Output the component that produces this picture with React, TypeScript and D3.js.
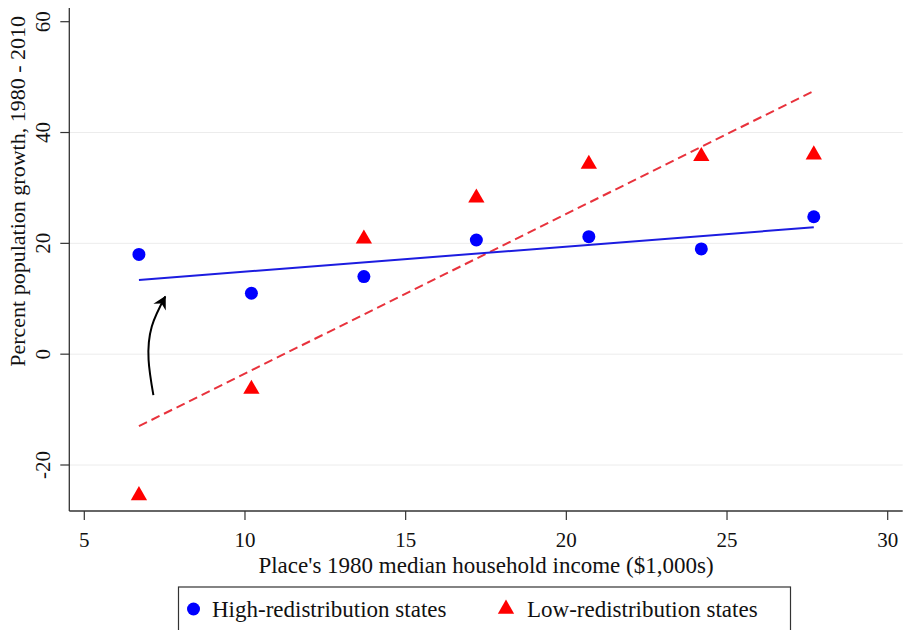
import React, { useRef, useEffect } from 'react';
import * as d3 from 'd3';

// place's 1980 median household income ($1,000s)
const incomeBins: number[] = [6.7, 10.2, 13.7, 17.2, 20.7, 24.2, 27.7];
// percent population growth 1980-2010
const highRedistribution: number[] = [18.0, 11.0, 14.0, 20.6, 21.2, 19.0, 24.8];
const lowRedistribution: number[] = [-25.5, -6.3, 20.8, 28.2, 34.3, 35.7, 36.0];
// fitted lines, end points
const highFit: [number, number][] = [[6.7, 13.4], [27.7, 22.9]];
const lowFit: [number, number][] = [[6.7, -13.0], [27.7, 47.5]];
// hand-drawn annotation arrow
const arrowPoints: [number, number][] = [[7.15, -7.4], [7.0, -1.0], [7.1, 5.0], [7.52, 10.4]];

const xTicks: number[] = [5, 10, 15, 20, 25, 30];
const yTicks: number[] = [-20, 0, 20, 40, 60];
const yGrid: number[] = [-20, 0, 20, 40];

const App = () => {
    const svgRef = useRef<SVGSVGElement>(null);

    useEffect(() => {
        const svg = d3.select(svgRef.current);
        svg.selectAll('*').remove();

        const font = '"Liberation Serif", "Times New Roman", serif';
        const left = 69.3, right = 902.7, top = 8, bottom = 511;

        const x = d3.scaleLinear().domain([5, 30]).range([84.3, 887.7]);
        const y = d3.scaleLinear().domain([-20, 60]).range([465, 21.7]);

        // grid
        svg.append('g')
            .selectAll('line')
            .data(yGrid)
            .join('line')
            .attr('x1', left)
            .attr('x2', right)
            .attr('y1', d => y(d))
            .attr('y2', d => y(d))
            .attr('stroke', '#ececec')
            .attr('stroke-width', 1);

        // axes
        const axisColor = '#333';
        svg.append('line')
            .attr('x1', left).attr('x2', left)
            .attr('y1', top).attr('y2', bottom)
            .attr('stroke', axisColor).attr('stroke-width', 1.3);
        svg.append('line')
            .attr('x1', left).attr('x2', right)
            .attr('y1', bottom).attr('y2', bottom)
            .attr('stroke', axisColor).attr('stroke-width', 1.3);

        const yt = svg.append('g');
        yt.selectAll('line')
            .data(yTicks)
            .join('line')
            .attr('x1', left - 9).attr('x2', left)
            .attr('y1', d => y(d)).attr('y2', d => y(d))
            .attr('stroke', axisColor).attr('stroke-width', 1.2);
        yt.selectAll('text')
            .data(yTicks)
            .join('text')
            .attr('transform', d => `translate(${left - 26},${y(d)}) rotate(-90)`)
            .attr('text-anchor', 'middle')
            .attr('dominant-baseline', 'central')
            .attr('font-family', font)
            .attr('font-size', 21)
            .attr('fill', '#111')
            .text(d => d);

        const xt = svg.append('g');
        xt.selectAll('line')
            .data(xTicks)
            .join('line')
            .attr('x1', d => x(d)).attr('x2', d => x(d))
            .attr('y1', bottom).attr('y2', bottom + 9)
            .attr('stroke', axisColor).attr('stroke-width', 1.2);
        xt.selectAll('text')
            .data(xTicks)
            .join('text')
            .attr('x', d => x(d))
            .attr('y', 547)
            .attr('text-anchor', 'middle')
            .attr('font-family', font)
            .attr('font-size', 21)
            .attr('fill', '#111')
            .text(d => d);

        svg.append('text')
            .attr('x', (left + right) / 2)
            .attr('y', 573)
            .attr('text-anchor', 'middle')
            .attr('font-family', font)
            .attr('font-size', 23)
            .attr('fill', '#111')
            .text("Place's 1980 median household income ($1,000s)");

        svg.append('text')
            .attr('transform', 'translate(17,16) rotate(-90)')
            .attr('text-anchor', 'end')
            .attr('dominant-baseline', 'central')
            .attr('font-family', font)
            .attr('font-size', 22)
            .attr('fill', '#111')
            .text('Percent population growth, 1980 - 2010');

        // fit lines
        const line = d3.line<[number, number]>()
            .x(d => x(d[0]))
            .y(d => y(d[1]));

        svg.append('path')
            .datum(lowFit)
            .attr('fill', 'none')
            .attr('stroke', '#e8323c')
            .attr('stroke-width', 2)
            .attr('stroke-dasharray', '9 5')
            .attr('d', line);

        svg.append('path')
            .datum(highFit)
            .attr('fill', 'none')
            .attr('stroke', '#1c1ce0')
            .attr('stroke-width', 2)
            .attr('d', line);

        // points
        const triangle = d3.symbol().type(d3.symbolTriangle).size(115);

        svg.append('g')
            .selectAll('circle')
            .data(incomeBins)
            .join('circle')
            .attr('cx', d => x(d))
            .attr('cy', (d, i) => y(highRedistribution[i]))
            .attr('r', 6.5)
            .attr('fill', '#0000ff');

        svg.append('g')
            .selectAll('path')
            .data(incomeBins)
            .join('path')
            .attr('transform', (d, i) => `translate(${x(d)},${y(lowRedistribution[i])})`)
            .attr('d', triangle)
            .attr('fill', '#ff0000');

        // annotation arrow
        const defs = svg.append('defs');
        defs.append('marker')
            .attr('id', 'arrowhead')
            .attr('viewBox', '-13 -8 15 16')
            .attr('refX', 0)
            .attr('refY', 0)
            .attr('markerWidth', 15)
            .attr('markerHeight', 16)
            .attr('markerUnits', 'userSpaceOnUse')
            .attr('orient', 'auto')
            .append('path')
            .attr('d', 'M1,0 L-12,-7 L-8,0 L-12,7 Z')
            .attr('fill', '#000');

        const curve = d3.line<[number, number]>()
            .x(d => x(d[0]))
            .y(d => y(d[1]))
            .curve(d3.curveNatural);

        svg.append('path')
            .datum(arrowPoints)
            .attr('fill', 'none')
            .attr('stroke', '#000')
            .attr('stroke-width', 2)
            .attr('marker-end', 'url(#arrowhead)')
            .attr('d', curve);

        // legend
        const legend = svg.append('g');
        legend.append('rect')
            .attr('x', 178.5)
            .attr('y', 587)
            .attr('width', 612)
            .attr('height', 60)
            .attr('fill', 'white')
            .attr('stroke', '#333')
            .attr('stroke-width', 1.2);

        legend.append('circle')
            .attr('cx', 193.5)
            .attr('cy', 609)
            .attr('r', 6.5)
            .attr('fill', '#0000ff');
        legend.append('text')
            .attr('x', 212)
            .attr('y', 617)
            .attr('font-family', font)
            .attr('font-size', 23)
            .attr('fill', '#111')
            .text('High-redistribution states');

        legend.append('path')
            .attr('transform', 'translate(506,609)')
            .attr('d', triangle)
            .attr('fill', '#ff0000');
        legend.append('text')
            .attr('x', 527)
            .attr('y', 617)
            .attr('font-family', font)
            .attr('font-size', 23)
            .attr('fill', '#111')
            .text('Low-redistribution states');
    }, []);

    return (
        <svg
            ref={svgRef}
            width={907}
            height={630}
            style={{ position: 'absolute', left: 0, top: 0, background: 'white' }}
        ></svg>
    );
};

export default App;
